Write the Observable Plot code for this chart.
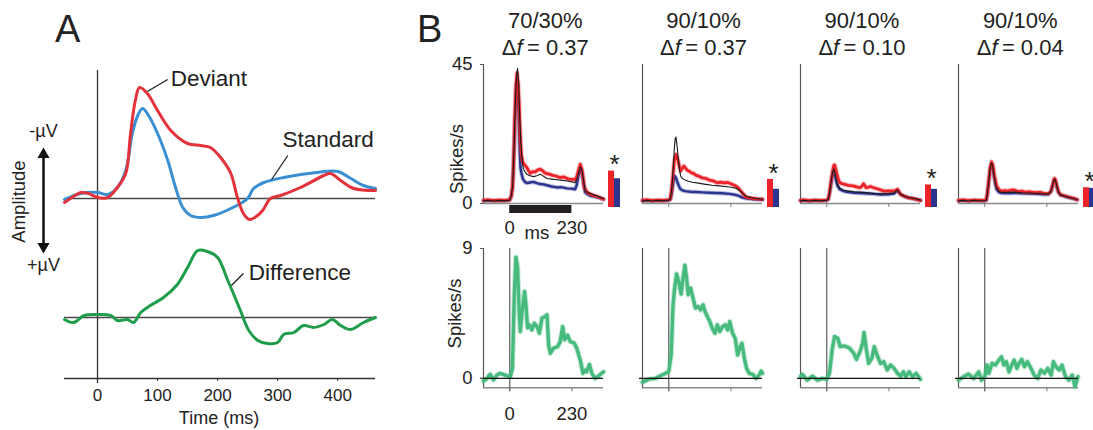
<!DOCTYPE html>
<html><head><meta charset="utf-8">
<script src="https://cdn.jsdelivr.net/npm/d3@7"></script>
<script src="https://cdn.jsdelivr.net/npm/@observablehq/plot@0.6"></script>
<style>
body{margin:0;background:#fff;}
#fig{position:relative;width:1093px;height:430px;overflow:hidden;font-family:"Liberation Sans",Arial,Helvetica,sans-serif;color:#222;background:#fff;}
.abs{position:absolute;}
.abs svg{overflow:visible;}
.title{position:absolute;text-align:center;font-size:22px;line-height:27px;width:150px;}
.panel{position:absolute;font-size:38px;line-height:38px;}
</style></head><body><div id="fig"></div>
<script>
// ================= DATA =================
// Panel A: ERP traces (time ms, amplitude; positive = -µV up)
const erpTicks = [0, 100, 200, 300, 400];
const deviantERP = [[-55,-0.4],[-40,0.2],[-28,0.6],[-15,0.5],[0,0.1],[17,0.1],[33,1.1],[47,2.5],[55,6.5],[63,9.8],[70,11.1],[83,10.5],[100,8.8],[122,6.8],[150,5.5],[172,5.3],[188,5.1],[205,4.1],[222,2.5],[233,0.1],[243,-1.5],[253,-2.1],[262,-1.9],[275,-1.2],[288,0],[305,0.3],[338,1.1],[377,2.3],[388,2.5],[405,1.8],[427,1.0],[463,0.8]];
const standardERP = [[-55,-0.1],[-28,0.5],[0,0.6],[17,0.4],[33,1.1],[47,2.8],[58,6.5],[67,8.3],[75,9.0],[85,8.3],[100,6.5],[117,3.8],[130,1.1],[142,-0.9],[155,-1.7],[172,-1.9],[193,-1.7],[222,-1.0],[250,0],[260,1.0],[277,1.6],[310,2.1],[365,2.6],[400,2.7],[422,2.0],[443,1.3],[463,1.0]];
const differenceERP = [[-55,-0.2],[-40,-0.5],[-22,0.2],[0,0.3],[22,0.2],[33,-0.3],[50,-0.2],[60,-0.5],[72,0.5],[88,1.2],[110,2.0],[133,3.3],[150,5.0],[167,6.7],[183,6.6],[200,6.0],[217,3.7],[227,2.3],[238,0.7],[252,-1.3],[267,-2.3],[283,-2.6],[300,-2.5],[310,-1.7],[327,-1.5],[343,-0.8],[360,-1.0],[377,-0.7],[391,-0.2],[405,-0.8],[422,-1.2],[443,-0.5],[463,0]];
const diffOffset = -11.9;
const erpLabels = [{label:"Deviant",t:122,v:12.0,diff:false},{label:"Standard",t:308,v:5.9,diff:false},{label:"Difference",t:252,v:4.5,diff:true}];
const erpLeaders = [{t1:83,v1:10.7,t2:117,v2:11.9,diff:false},{t1:290,v1:1.9,t2:317,v2:4.3,diff:false},{t1:223,v1:3.2,t2:243,v2:4.4,diff:true}];
const ampLabels = [{text:"-µV",v:6.7},{text:"+µV",v:-6.7}];
const ampTitle = [{text:"Amplitude",v:-0.3}];
const ampHeads = [{v:4.4,rot:0},{v:-4.8,rot:180}];

// Panel B: conditions
const ratios = ["70/30%","90/10%","90/10%","90/10%"];
const deltaF = ["0.37","0.37","0.10","0.04"];
const stimulus = [0, 230];
const topTicks = [0, 45];
const botTicks = [0, 9];
const devMean = [10.5, 7.8, 6.0, 5.1];
const stdMean = [8.0, 4.6, 4.6, 4.9];

// PSTHs (time ms, spikes/s)
const devPSTH1 = [[-97,1.0],[-80,1.2],[-60,0.9],[-40,1.1],[-20,1.0],[0,1.2],[6,2.5],[11,6],[15,15],[19,28],[23,38],[27,42.3],[31,39],[35,32],[39,22],[43,16],[48,13.5],[55,12.5],[63,11.7],[70,10.6],[76,9.8],[85,10.3],[94,10.2],[104,10.9],[113,11.1],[122,10.6],[131,9.8],[143,9.6],[156,9.2],[170,8.9],[187,8.4],[200,8.6],[218,7.9],[232,7.8],[242,7.7],[248,8.6],[254,10.6],[261,12.7],[267,11.1],[272,8],[276,5.2],[284,4.0],[292,3.3],[304,2.8],[316,2.5],[330,2.0],[347,1.4]];
const allPSTH1 = [[-97,0.9],[-80,1.0],[-60,0.8],[-40,1.0],[-20,0.9],[0,1.1],[6,2.5],[11,6],[16,18],[21,33],[25,41],[29,43.8],[33,39],[37,28],[41,20],[44,16.4],[48,12.5],[51,11.1],[57,10.2],[63,9.5],[75,9.0],[88,8.7],[100,9.0],[113,9.5],[125,8.8],[138,8.1],[155,7.9],[175,7.7],[195,7.5],[212,7.3],[230,7.0],[242,6.7],[248,7.8],[254,9.5],[261,11.8],[265,11.5],[269,10.0],[274,7],[279,4.1],[288,3.6],[298,3.3],[310,2.8],[322,2.5],[335,2.0],[347,1.6]];
const stdPSTH1 = [[-97,0.9],[-80,1.0],[-60,0.9],[-40,1.0],[-20,0.9],[0,1.1],[6,2.5],[11,5.5],[15,14],[19,26],[23,36],[27,40],[31,34],[34,26],[37,17],[40,11.5],[44,9.5],[49,7.9],[56,7.0],[63,6.6],[75,6.8],[88,7.0],[100,6.6],[113,6.3],[125,6.2],[138,5.9],[155,5.5],[175,5.2],[190,5.3],[212,4.9],[228,4.8],[242,4.6],[248,6],[254,8.9],[261,11.1],[265,10.5],[269,8.9],[274,6],[279,3.6],[288,3.0],[298,2.5],[310,2.3],[325,2.0],[335,1.8],[347,1.4]];

const devPSTH2 = [[-97,1.0],[-80,1.2],[-60,0.9],[-40,1.1],[-20,1.0],[0,1.2],[6,1.5],[11,5],[16,9.4],[21,14],[27,15.9],[31,15],[35,13.7],[40,11.8],[44,10.5],[50,11.4],[56,12.1],[62,11.5],[68,10.8],[75,10.5],[85,9.9],[93,9.7],[100,9.2],[112,8.8],[124,8.3],[138,8.1],[150,7.6],[165,7.3],[180,6.7],[192,6.9],[205,6.7],[218,6.8],[230,6.4],[240,6.0],[248,5.7],[258,5.0],[267,4.0],[277,3.0],[286,2.1],[298,1.9],[311,1.7],[328,1.5],[347,1.4]];
const allPSTH2 = [[-97,0.9],[-80,1.0],[-60,0.8],[-40,1.0],[-20,0.9],[0,1.1],[6,1.5],[12,5.2],[17,12],[21,18.1],[24,21],[27,21.5],[31,18.5],[35,14.8],[40,11],[44,8.9],[50,8.2],[56,7.8],[70,7.3],[87,6.9],[110,6.6],[137,6.2],[160,5.9],[186,5.7],[210,5.5],[236,5.2],[250,4.9],[261,4.3],[273,3.3],[286,2.4],[300,2.0],[317,1.7],[347,1.4]];
const stdPSTH2 = [[-97,0.9],[-80,1.0],[-60,0.8],[-40,1.0],[-20,0.9],[0,1.0],[6,1.3],[12,3.6],[17,7],[22,8.9],[27,8.3],[31,7.2],[35,6.2],[40,5.2],[44,4.6],[52,4.2],[62,4.0],[80,3.8],[100,3.7],[125,3.6],[149,3.5],[175,3.4],[199,3.3],[225,3.1],[248,2.8],[262,2.4],[273,1.9],[290,1.6],[310,1.4],[340,1.3],[347,1.2]];

const devPSTH3 = [[-97,1.0],[-85,1.2],[-65,0.9],[-45,1.1],[-25,1.0],[0,1.1],[6,1.5],[11,4],[16,7.3],[22,10.5],[26,12.3],[29,12.5],[33,11.3],[38,9.4],[43,7.8],[48,6.8],[57,6.4],[67,6.2],[80,5.9],[98,5.7],[110,5.4],[123,5.1],[130,5.6],[136,6.4],[141,5.8],[146,5.1],[155,5.3],[162,5.5],[174,5.1],[190,4.7],[212,4.0],[230,4.1],[249,4.0],[256,4.3],[262,4.6],[268,3.7],[274,2.9],[287,2.4],[300,1.9],[315,1.7],[330,1.4],[347,1.0]];
const allPSTH3 = [[-97,0.9],[-85,1.0],[-65,0.8],[-45,1.0],[-25,0.9],[0,1.0],[6,1.4],[11,3.7],[16,6.8],[21,9.8],[26,11.2],[30,10.2],[35,7.8],[40,6.2],[48,5.0],[60,4.4],[73,4.1],[100,3.8],[136,3.6],[170,3.3],[199,3.1],[230,3.2],[249,3.4],[256,4.0],[262,4.4],[268,3.6],[274,3.0],[287,2.4],[300,2.0],[325,1.6],[347,1.1]];
const stdPSTH3 = [[-97,0.9],[-85,1.0],[-65,0.8],[-45,1.0],[-25,0.9],[0,1.0],[6,1.4],[11,3.5],[16,6.2],[21,9],[26,10.5],[30,9.5],[35,7.3],[40,5.8],[48,4.6],[60,4.1],[73,3.8],[100,3.5],[136,3.3],[170,3.1],[199,2.9],[230,3.0],[249,3.2],[256,3.8],[262,4.2],[268,3.5],[274,2.9],[287,2.3],[300,1.9],[325,1.5],[347,1.0]];

const devPSTH4 = [[-97,1.0],[-80,1.2],[-60,0.9],[-40,1.1],[-20,1.0],[0,1.0],[6,1.2],[10,3.5],[15,7.3],[20,11.5],[25,13.5],[29,12.8],[35,9.4],[40,7.2],[44,5.7],[52,4.6],[62,4.0],[75,4.2],[87,4.0],[100,4.4],[112,4.3],[125,3.8],[137,4.0],[149,3.7],[165,3.8],[187,3.5],[205,3.6],[220,3.3],[236,3.2],[245,4.0],[252,6.2],[256,7.8],[259,8.1],[263,7.2],[267,5.7],[273,3.8],[280,2.9],[295,2.5],[311,2.1],[328,1.7],[342,1.3]];
const allPSTH4 = [[-97,0.9],[-80,1.0],[-60,0.8],[-40,1.0],[-20,0.9],[0,0.9],[6,1.1],[10,3.3],[15,7.1],[20,11.2],[25,13.1],[29,12.3],[35,8.8],[40,6.4],[44,5.0],[52,4.0],[62,3.6],[87,3.6],[112,3.7],[137,3.5],[165,3.4],[187,3.3],[220,3.1],[236,3.1],[245,3.9],[252,6.1],[256,7.6],[259,7.9],[263,7.1],[267,5.5],[273,3.7],[280,2.8],[295,2.4],[311,2.0],[328,1.6],[342,1.3]];
const stdPSTH4 = [[-97,0.9],[-80,1.0],[-60,0.8],[-40,1.0],[-20,0.9],[0,0.9],[6,1.1],[10,3.2],[15,7],[20,11],[25,12.8],[29,12],[35,8.5],[40,6.0],[44,4.6],[52,3.7],[62,3.4],[87,3.3],[112,3.4],[137,3.3],[165,3.2],[187,3.1],[220,3.0],[236,3.0],[245,3.8],[252,6.0],[256,7.4],[259,7.8],[263,7.0],[267,5.4],[273,3.6],[280,2.7],[295,2.3],[311,1.9],[328,1.6],[342,1.2]];

// Difference PSTHs (deviant - standard), spikes/s
const diffPSTH1 = [[-97,-0.19],[-85,0],[-72,0.28],[-60,-0.1],[-47,0.23],[-35,0.35],[-17,0.23],[2,0.11],[10,0.7],[17,5.8],[23,8.4],[29,7.7],[35,4.64],[39,3.25],[46,4.64],[55,6.03],[60,5.1],[66,3.5],[73,3.7],[82,3.36],[91,3.82],[101,3.59],[110,3.13],[119,4.17],[131,4.29],[138,4.41],[144,2.32],[150,1.74],[162,2.09],[177,2.2],[187,2.55],[196,3.59],[203,2.67],[214,3.0],[224,2.55],[239,2.44],[248,2.09],[261,1.28],[271,0.35],[279,0.58],[285,0.46],[295,0.97],[304,0.35],[316,0],[328,0.16],[347,0.46]];
const diffPSTH2 = [[-97,-0.27],[-74,-0.05],[-50,0],[-25,0.23],[-12,0.35],[0,0.46],[9,1.62],[16,5.1],[22,6.26],[29,7.23],[37,6.72],[46,5.84],[53,6.96],[60,7.84],[66,6.96],[72,5.8],[81,6.26],[90,5.56],[99,4.87],[109,4.98],[118,4.75],[127,5.1],[134,4.64],[143,4.29],[152,3.94],[161,3.48],[171,3.13],[180,3.71],[189,3.25],[199,3.59],[209,3.71],[218,3.36],[226,3.94],[236,3.13],[246,2.78],[255,1.62],[264,2.2],[271,2.44],[280,1.39],[288,0.7],[298,0.35],[311,0.28],[323,0],[333,0.19],[342,0.51],[347,0.35]];
const diffPSTH3 = [[-97,0.12],[-90,0.28],[-72,-0.12],[-53,0.16],[-34,-0.12],[-15,0],[0,-0.07],[10,0.35],[20,1.97],[29,2.9],[41,2.78],[50,2.2],[67,2.25],[85,2.09],[100,1.74],[110,1.32],[123,1.85],[133,2.43],[138,3.18],[146,2.09],[155,1.04],[167,1.39],[176,2.2],[186,1.62],[199,1.04],[211,1.16],[224,0.58],[236,0.93],[249,0.7],[262,0.35],[274,0.16],[284,0.46],[293,0.12],[305,0.46],[318,0.12],[331,0.35],[347,-0.07]];
const diffPSTH4 = [[-97,-0.12],[-78,0.12],[-60,0.3],[-41,0],[-22,0.46],[-12,-0.12],[0,0.12],[9,0.93],[15,0.35],[27,1.04],[40,0.93],[52,1.27],[62,1.5],[71,0.93],[80,1.16],[90,0.46],[100,0.93],[109,1.27],[119,0.7],[127,1.04],[137,1.32],[147,0.81],[158,1.16],[171,0.7],[183,0.23],[196,0],[208,0.58],[221,0.35],[233,0.7],[246,0.23],[254,1.16],[264,0.81],[276,0.58],[286,0.93],[299,0.12],[311,-0.12],[324,0.23],[334,-0.58],[345,0.12]];

const devPSTH = [devPSTH1, devPSTH2, devPSTH3, devPSTH4];
const stdPSTH = [stdPSTH1, stdPSTH2, stdPSTH3, stdPSTH4];
const allPSTH = [allPSTH1, allPSTH2, allPSTH3, allPSTH4];
const diffPSTH = [diffPSTH1, diffPSTH2, diffPSTH3, diffPSTH4];
const spikesLabelY = [14.4, 4.5];

// ================= STYLE / LAYOUT =================
const FONT = '"Liberation Sans", Arial, Helvetica, sans-serif';
const INK = "#222";
const baseStyle = {fontFamily: FONT, fontSize: "18px", color: INK, background: "transparent", overflow: "visible"};
const C = {devA: "#e4323b", stdA: "#3a8fd2", diffA: "#1f9d4b", dev: "#ec2329", std: "#2b3590", all: "#1a1a1a", diff: "#47bb7e"};
const px = d => d[0], py = d => d[1];

const fig = document.getElementById("fig");
function place(node, left, top, w) {
  const d = document.createElement("div");
  d.className = "abs";
  d.style.left = left + "px"; d.style.top = top + "px";
  if (w) d.style.width = w + "px";
  d.appendChild(node); fig.appendChild(d); return d;
}
function html(cls, inner, left, top) {
  const d = document.createElement("div");
  d.className = cls; d.innerHTML = inner;
  d.style.left = left + "px"; d.style.top = top + "px";
  fig.appendChild(d);
}

// ================= PANEL A =================
const xA = [-55, 463], yA = [-18, 12.8];
const lift = r => r.diff ? diffOffset : 0;
const plotA = Plot.plot({
  width: 400, height: 430, marginLeft: 64, marginRight: 25, marginTop: 70, marginBottom: 52,
  style: baseStyle,
  x: {domain: xA},
  y: {domain: yA, axis: null},
  marks: [
    Plot.ruleY([0, diffOffset], {stroke: "#4a4a4a", strokeWidth: 1.3}),
    Plot.ruleY([yA[0]], {stroke: "#333", strokeWidth: 1.3}),
    Plot.ruleX([0], {stroke: "#333", strokeWidth: 1.3, insetBottom: -5}),
    Plot.axisX({ticks: erpTicks, tickSize: 3, tickPadding: 7, fontSize: 17, label: null, stroke: "#333"}),
    Plot.text(["Time (ms)"], {frameAnchor: "bottom", lineAnchor: "middle", textAnchor: "middle", dy: 40, dx: -1, fontSize: 18}),
    Plot.line(standardERP, {x: px, y: py, stroke: C.stdA, strokeWidth: 3, curve: "catmull-rom"}),
    Plot.line(deviantERP, {x: px, y: py, stroke: C.devA, strokeWidth: 3, curve: "catmull-rom"}),
    Plot.line(differenceERP, {x: px, y: d => d[1] + diffOffset, stroke: C.diffA, strokeWidth: 3, curve: "catmull-rom"}),
    Plot.link(erpLeaders, {x1: "t1", y1: r => r.v1 + lift(r), x2: "t2", y2: r => r.v2 + lift(r), stroke: "#222", strokeWidth: 1.3}),
    Plot.text(erpLabels, {x: "t", y: r => r.v + lift(r), text: "label", textAnchor: "start", fontSize: 22.5}),
    Plot.text(ampLabels, {frameAnchor: "left", textAnchor: "middle", lineAnchor: "middle", y: "v", text: "text", dx: -21, fontSize: 18}),
    Plot.text(ampTitle, {frameAnchor: "left", textAnchor: "middle", lineAnchor: "middle", y: "v", text: "text", dx: -45, rotate: -90, fontSize: 18.5}),
    Plot.ruleX([xA[0]], {y1: ampHeads[0].v, y2: ampHeads[1].v, dx: -21, strokeWidth: 2.5, stroke: "#111"}),
    Plot.dot(ampHeads, {x: xA[0], y: "v", rotate: "rot", symbol: "triangle", r: 4.5, fill: "#111", stroke: "none", dx: -21})
  ]
});
place(plotA, 0, 0, 400);
html("panel", "A", 55, 10);
html("panel", "B", 417, 10);

// ================= PANEL B =================
const xB = [-97, 347];
const topY = [0, 45], botY = [-0.65, 9];
const mL = 45, mR = 5, mT = 10, mB = 45, frameW = 120;
const topFrame = [63.5, 202.5], botFrame = [248.4, 387.7];
const axisLeft = i => 483.3 + 158.3 * i;

function halo(data, color, w) {
  return [
    Plot.line(data, {x: px, y: py, stroke: color, strokeWidth: w + 2, strokeOpacity: 0.3}),
    Plot.line(data, {x: px, y: py, stroke: color, strokeWidth: w})
  ];
}
const spikesLabel = (v, dx) => Plot.text(["Spikes/s"], {frameAnchor: "left", textAnchor: "middle", lineAnchor: "middle", y: v, dx, rotate: -90, fontSize: 18.5});

for (let i = 0; i < 4; i++) {
  const first = i === 0;
  const L = axisLeft(i);
  // titles
  html("title", ratios[i] + "<br>\u0394<i>f</i>\u2009= " + deltaF[i], L + 62 - 75, 7);

  // ---- top PSTH ----
  const tm = [
    Plot.ruleY([0], {stroke: "#8a8a8a", strokeWidth: 1.5}),
    Plot.ruleX([xB[0]], {stroke: "#555", strokeWidth: 1.2})
  ];
  if (first) {
    tm.push(Plot.axisY({ticks: topTicks, tickSize: 3, tickPadding: 8, fontSize: 18.5, label: null, stroke: "#555"}));
    tm.push(spikesLabel(spikesLabelY[0], -26));
    tm.push(Plot.ruleY([0], {x1: stimulus[0], x2: stimulus[1], dy: 5.5, strokeWidth: 8, stroke: "#231f20"}));
    tm.push(Plot.axisX({ticks: stimulus, tickSize: 0, tickPadding: 17.5, fontSize: 18.5, label: null}));
    tm.push(Plot.text(["ms"], {x: (stimulus[0] + stimulus[1]) / 2, frameAnchor: "bottom", lineAnchor: "middle", textAnchor: "middle", dy: 30, dx: -4, fontSize: 18.5}));
  } else {
    tm.push(Plot.axisX({ticks: stimulus, tickSize: 4, tickFormat: () => "", label: null, stroke: "#777"}));
  }
  tm.push(...halo(stdPSTH[i], C.std, 2.4));
  tm.push(...halo(devPSTH[i], C.dev, 2.8));
  tm.push(Plot.line(allPSTH[i], {x: px, y: py, stroke: C.all, strokeWidth: 1.1}));
  const topPlot = Plot.plot({
    width: mL + frameW + mR, height: mT + (topFrame[1] - topFrame[0]) + mB,
    marginLeft: mL, marginRight: mR, marginTop: mT, marginBottom: mB,
    style: baseStyle,
    x: {domain: xB},
    y: first ? {domain: topY} : {domain: topY, axis: null},
    marks: tm
  });
  place(topPlot, L - mL, topFrame[0] - mT, mL + frameW + mR);

  // ---- mean response bars ----
  const barRows = [{cond: "Deviant", rate: devMean[i]}, {cond: "Standard", rate: stdMean[i]}];
  const barPlot = Plot.plot({
    width: 12, height: mT + (topFrame[1] - topFrame[0]) + mB,
    marginLeft: 0, marginRight: 0, marginTop: mT, marginBottom: mB,
    style: baseStyle,
    x: {type: "band", domain: ["Deviant", "Standard"], padding: 0, axis: null},
    y: {domain: topY, axis: null},
    color: {domain: ["Deviant", "Standard"], range: [C.dev, C.std]},
    marks: [
      Plot.barY(barRows, {x: "cond", y: "rate", fill: "cond", insetBottom: -4}),
      Plot.text([d3.max(barRows, d => d.rate)], {y: d => d, text: () => "*", dy: -6, fontSize: 26})
    ]
  });
  place(barPlot, L + 125, topFrame[0] - mT, 12);

  // ---- bottom difference PSTH ----
  const bm = [
    Plot.ruleY([botY[0]], {stroke: "#8a8a8a", strokeWidth: 1.5}),
    Plot.ruleX([xB[0]], {stroke: "#555", strokeWidth: 1.2}),
    Plot.ruleX([0], {stroke: "#6a6a6a", strokeWidth: 1.3, insetBottom: -4}),
    Plot.axisX({ticks: stimulus, tickSize: 4, tickPadding: 15, fontSize: 18.5, label: null, stroke: "#777",
                tickFormat: first ? (d => String(d)) : (() => "")}),
    ...halo(diffPSTH[i], C.diff, 3.4),
    Plot.ruleY([0], {stroke: "#111", strokeWidth: 1.2, insetLeft: -3})
  ];
  if (first) {
    bm.push(Plot.axisY({ticks: botTicks, tickSize: 3, tickPadding: 8, fontSize: 18.5, label: null, stroke: "#555"}));
    bm.push(spikesLabel(spikesLabelY[1], -28));
  }
  const botPlot = Plot.plot({
    width: mL + frameW + mR, height: mT + (botFrame[1] - botFrame[0]) + mB,
    marginLeft: mL, marginRight: mR, marginTop: mT, marginBottom: mB,
    style: baseStyle,
    x: {domain: xB},
    y: first ? {domain: botY} : {domain: botY, axis: null},
    marks: bm
  });
  place(botPlot, L - mL, botFrame[0] - mT, mL + frameW + mR);
}
</script></body></html>
